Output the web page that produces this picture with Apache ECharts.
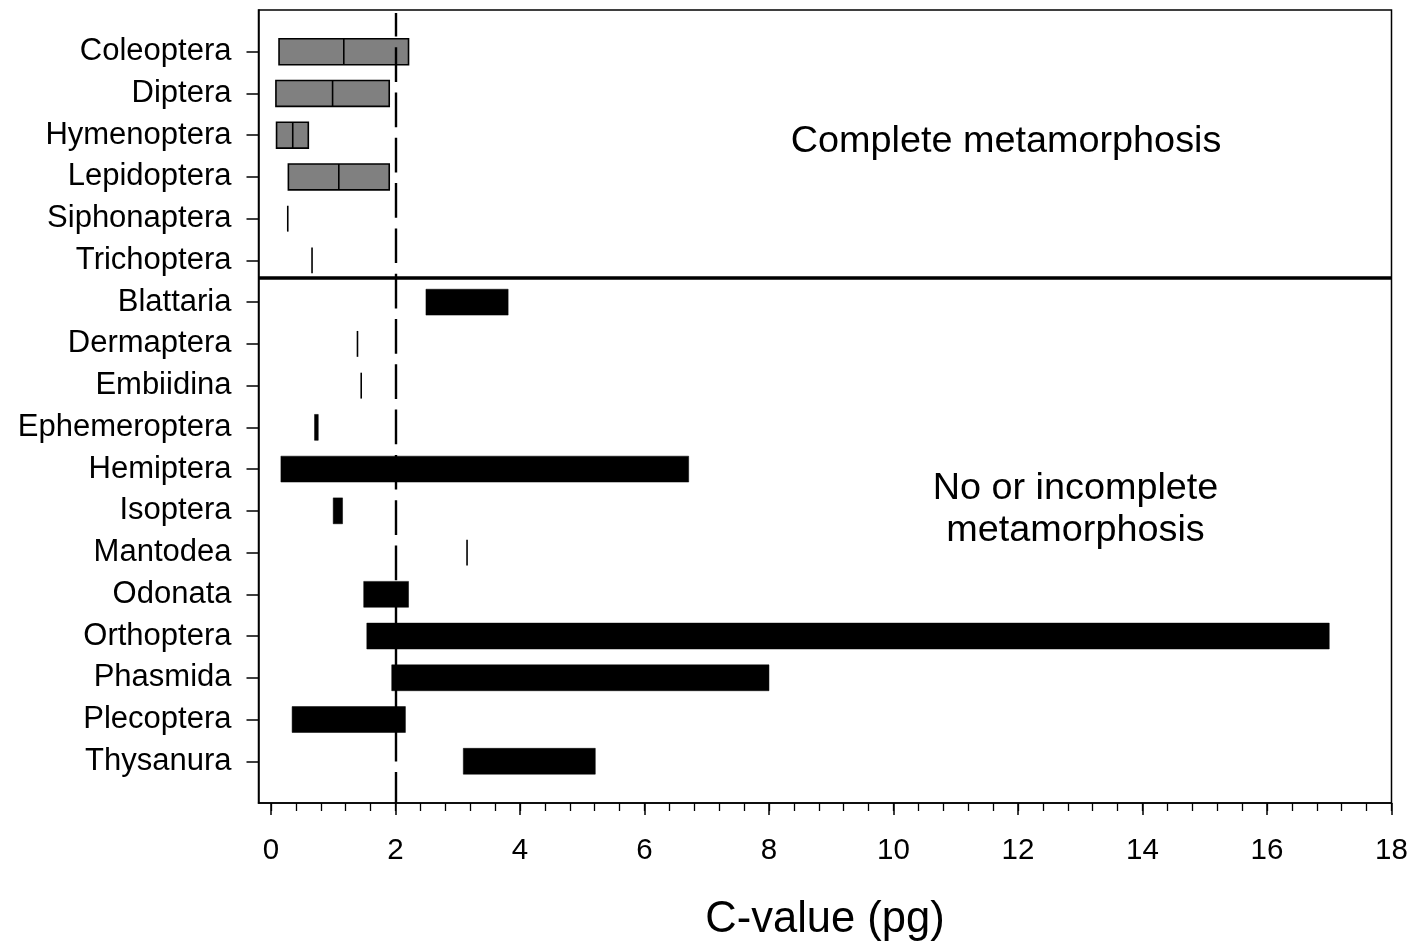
<!DOCTYPE html>
<html>
<head>
<meta charset="utf-8">
<title>C-value ranges by insect order</title>
<script src="https://cdn.jsdelivr.net/npm/echarts@6/dist/echarts.min.js"></script>
<style>
  html, body { margin: 0; padding: 0; background: #fff; }
  #chart { width: 1414px; height: 945px; }
</style>
</head>
<body>
<div id="chart"></div>
<script>
// Insect orders, top to bottom
const categories = [
  'Coleoptera', 'Diptera', 'Hymenoptera', 'Lepidoptera', 'Siphonaptera', 'Trichoptera',
  'Blattaria', 'Dermaptera', 'Embiidina', 'Ephemeroptera', 'Hemiptera', 'Isoptera',
  'Mantodea', 'Odonata', 'Orthoptera', 'Phasmida', 'Plecoptera', 'Thysanura'
];
// Development type of each order
const development = [
  'complete', 'complete', 'complete', 'complete', 'complete', 'complete',
  'incomplete', 'incomplete', 'incomplete', 'incomplete', 'incomplete', 'incomplete',
  'incomplete', 'incomplete', 'incomplete', 'incomplete', 'incomplete', 'incomplete'
];
// Genome size range (pg): lowest and highest C-value per order
const lowValues = [
  0.13, 0.08, 0.09, 0.28, 0.27, 0.66,
  2.49, 1.39, 1.45, 0.70, 0.16, 1.00,
  3.15, 1.49, 1.54, 1.94, 0.34, 3.09
];
const highValues = [
  2.21, 1.90, 0.60, 1.90, 0.27, 0.66,
  3.81, 1.39, 1.45, 0.76, 6.71, 1.15,
  3.15, 2.21, 17.0, 8.00, 2.16, 5.21
];
// Median C-value where reported
const medianValues = [
  1.17, 0.99, 0.35, 1.09, null, null,
  null, null, null, null, null, null,
  null, null, null, null, null, null
];
// Reference C-value marked with the dashed line
const referenceValue = 2;
// Axis ticks
const xMajorTicks = [0, 2, 4, 6, 8, 10, 12, 14, 16, 18];
const xMinorStep = 0.4;
const xMin = -0.2, xMax = 18;

const xMinorTicks = [];
for (let v = 0; v <= xMax + 1e-9; v += xMinorStep) xMinorTicks.push(+v.toFixed(2));
const rowPositions = categories.map((_, i) => i + 1);
const groupBoundary = development.lastIndexOf('complete') + 1.41;

const seriesData = categories.map((name, i) => [i + 1, lowValues[i], highValues[i], medianValues[i], development[i] === 'complete' ? 1 : 0]);

const FONT = '"Liberation Sans", Arial, Helvetica, sans-serif';

function renderRange(params, api) {
  const row = api.value(0);
  const lo = api.value(1);
  const hi = api.value(2);
  const med = api.value(3);
  const complete = api.value(4) === 1;
  const pLo = api.coord([lo, row]);
  const pHi = api.coord([hi, row]);
  const h = api.size([0, 1])[1] * 0.62;
  const children = [];
  if (hi - lo < 1e-6) {
    children.push({
      type: 'line',
      shape: { x1: pLo[0], y1: pLo[1] - h / 2, x2: pLo[0], y2: pLo[1] + h / 2 },
      style: { stroke: '#000', lineWidth: 1.6 }
    });
  } else {
    children.push({
      type: 'rect',
      shape: { x: pLo[0], y: pLo[1] - h / 2, width: pHi[0] - pLo[0], height: h },
      style: complete
        ? { fill: '#808080', stroke: '#000', lineWidth: 1.6 }
        : { fill: '#000', stroke: '#000', lineWidth: 0.5 }
    });
    if (med != null && !isNaN(med)) {
      const pMed = api.coord([med, row]);
      children.push({
        type: 'line',
        shape: { x1: pMed[0], y1: pMed[1] - h / 2, x2: pMed[0], y2: pMed[1] + h / 2 },
        style: { stroke: '#000', lineWidth: 1.6 }
      });
    }
  }
  return { type: 'group', children };
}

const chart = echarts.init(document.getElementById('chart'), null, { renderer: 'canvas' });
chart.setOption({
  animation: false,
  backgroundColor: '#fff',
  grid: {
    left: 258.5, right: 22.5, top: 10, bottom: 142,
    outerBoundsMode: 'none', containLabel: false,
    show: true, borderColor: '#000', borderWidth: 1.5, backgroundColor: 'transparent'
  },
  xAxis: [
    {
      type: 'value', min: xMin, max: xMax, position: 'bottom',
      name: 'C-value (pg)', nameLocation: 'middle', nameGap: 95,
      nameTextStyle: { fontSize: 43.5, color: '#000', fontFamily: FONT },
      axisLine: { show: true, onZero: false, lineStyle: { color: '#000', width: 1.5 } },
      axisTick: { show: true, inside: false, length: 12, customValues: xMajorTicks, lineStyle: { color: '#000', width: 1.5 } },
      axisLabel: { show: true, customValues: xMajorTicks, margin: 33, fontSize: 29.5, color: '#000', fontFamily: FONT },
      splitLine: { show: false }
    },
    {
      type: 'value', min: xMin, max: xMax, position: 'bottom', offset: 0,
      axisLine: { show: false, onZero: false },
      axisTick: { show: true, inside: false, length: 8, customValues: xMinorTicks, lineStyle: { color: '#000', width: 1.3 } },
      axisLabel: { show: false },
      splitLine: { show: false }
    }
  ],
  yAxis: {
    type: 'value', min: 0, max: categories.length + 1, inverse: true,
    axisLine: { show: true, onZero: false, lineStyle: { color: '#000', width: 1.5 } },
    axisTick: { show: true, inside: false, length: 12, customValues: rowPositions, lineStyle: { color: '#000', width: 1.5 } },
    axisLabel: {
      show: true, customValues: rowPositions, margin: 27, fontSize: 31, color: '#000', fontFamily: FONT,
      formatter: v => categories[Math.round(v) - 1] || ''
    },
    splitLine: { show: false }
  },
  series: [{
    type: 'custom',
    xAxisIndex: 0,
    yAxisIndex: 0,
    renderItem: renderRange,
    encode: { x: [1, 2], y: 0 },
    data: seriesData,
    clip: false,
    silent: true,
    z: 3,
    markLine: {
      silent: true,
      symbol: 'none',
      label: { show: false },
      z: 5,
      data: [
        [
          { coord: [referenceValue, 0.07], lineStyle: { color: '#000', width: 2.4, type: [34.7, 10.6], dashOffset: 11 } },
          { coord: [referenceValue, categories.length + 1] }
        ],
        [
          { coord: [xMin, groupBoundary], lineStyle: { color: '#000', width: 3.5, type: 'solid' } },
          { coord: [xMax, groupBoundary] }
        ]
      ]
    }
  }],
  graphic: [
    {
      type: 'text', x: 1006, y: 142, z: 10,
      style: {
        text: 'Complete metamorphosis', fontSize: 37.8, fill: '#000', fontFamily: FONT,
        align: 'center', verticalAlign: 'middle'
      }
    },
    {
      type: 'text', x: 1075.5, y: 510, z: 10,
      style: {
        text: 'No or incomplete\nmetamorphosis', fontSize: 37.8, lineHeight: 42, align: 'center',
        verticalAlign: 'middle', fill: '#000', fontFamily: FONT
      }
    }
  ]
});
</script>
</body>
</html>
